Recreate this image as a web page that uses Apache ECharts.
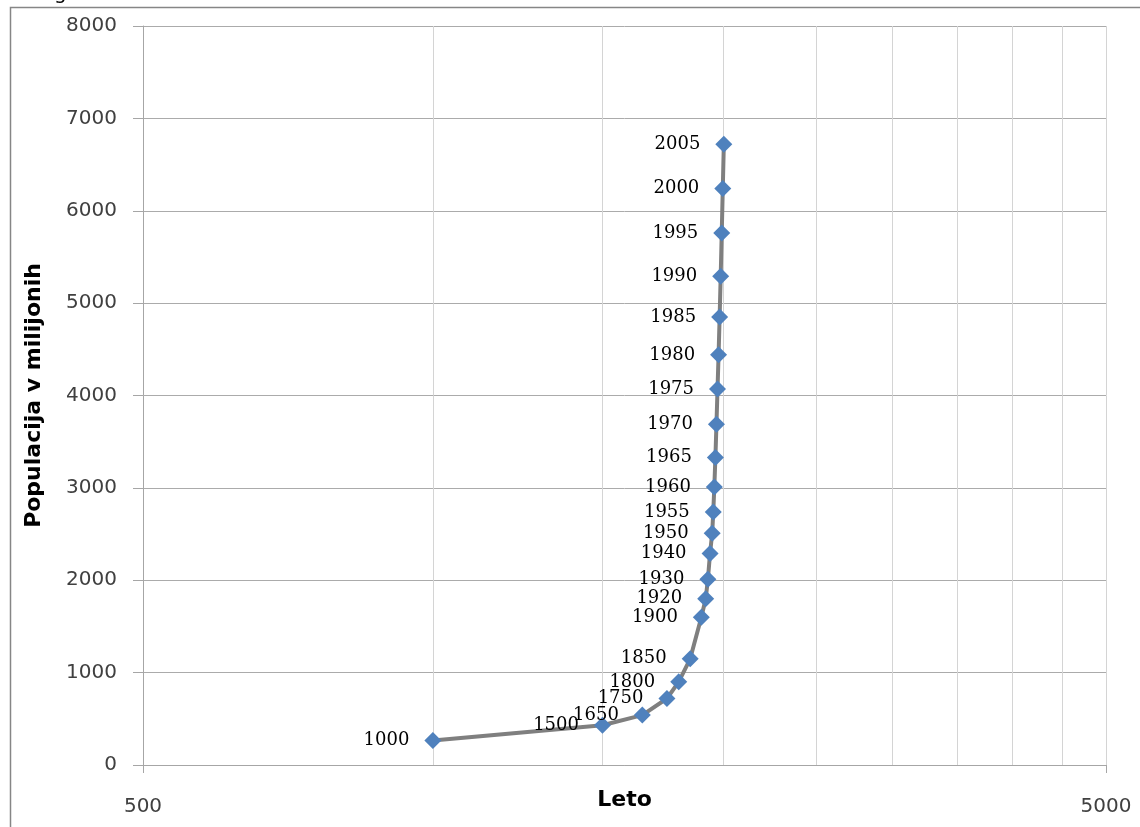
<!DOCTYPE html>
<html>
<head>
<meta charset="utf-8">
<script src="https://cdn.jsdelivr.net/npm/echarts@6/dist/echarts.min.js"></script>
<style>
html,body{margin:0;padding:0;background:#fff;}
#chart{width:1140px;height:827px;}
</style>
</head>
<body>
<div id="chart"></div>
<script>
// Years (x, log scale) and population in millions (y)
var years = [1000, 1500, 1650, 1750, 1800, 1850, 1900, 1920, 1930, 1940, 1950, 1955, 1960, 1965, 1970, 1975, 1980, 1985, 1990, 1995, 2000, 2005];
var population = [265, 430, 540, 720, 900, 1150, 1600, 1800, 2010, 2290, 2510, 2740, 3010, 3330, 3690, 4070, 4440, 4850, 5290, 5760, 6240, 6720];
var xGridValues = [1000, 1500, 2000, 2500, 3000, 3500, 4000, 4500];
var xAxisMin = 500, xAxisMax = 5000;
var yAxisMin = 0, yAxisMax = 8000, yAxisStep = 1000;

var points = years.map(function (y, i) { return [y, population[i]]; });

var chart = echarts.init(document.getElementById('chart'), null, {renderer: 'canvas'});
var option = {
  backgroundColor: '#ffffff',
  animation: false,
  graphic: [
    {type: 'rect', shape: {x: 10.5, y: 7.5, width: 1300, height: 1000}, style: {fill: 'none', stroke: '#868686', lineWidth: 1.5}, silent: true, z: 0},
    {type: 'text', x: 54, y: 4, style: {text: 'g', font: '20px "DejaVu Sans"', fill: '#000', verticalAlign: 'bottom'}, silent: true}
  ],
  grid: {left: 143, right: 34, top: 26, bottom: 62, containLabel: false, outerBoundsMode: 'none'},
  xAxis: {
    type: 'log', logBase: 10, min: xAxisMin, max: xAxisMax, interval: 2,
    name: 'Leto', nameLocation: 'middle', nameGap: 24, nameMoveOverlap: false,
    nameTextStyle: {fontFamily: 'DejaVu Sans', fontWeight: 'bold', fontSize: 22, color: '#000'},
    axisLine: {show: true, lineStyle: {color: '#a6a6a6', width: 1}},
    axisTick: {show: true, inside: false, length: 8, lineStyle: {color: '#a6a6a6'}},
    axisLabel: {margin: 32, fontFamily: 'DejaVu Sans', fontSize: 20, color: '#404040', showMinLabel: true, showMaxLabel: true,
      formatter: function (v) { return String(Math.round(v)); }},
    splitLine: {show: true, lineStyle: {color: '#d4d4d4', width: 1}},
    minorTick: {show: false}
  },
  yAxis: {
    type: 'value', min: yAxisMin, max: yAxisMax, interval: yAxisStep,
    name: 'Populacija v milijonih', nameLocation: 'middle', nameGap: 98, nameMoveOverlap: false,
    nameTextStyle: {fontFamily: 'DejaVu Sans', fontWeight: 'bold', fontSize: 22, color: '#000'},
    axisLine: {show: true, lineStyle: {color: '#a6a6a6', width: 1}},
    axisTick: {show: true, inside: false, length: 10, lineStyle: {color: '#a6a6a6'}},
    axisLabel: {margin: 26, fontFamily: 'DejaVu Sans', fontSize: 20, color: '#404040',
      formatter: function (v) { return String(v); }},
    splitLine: {show: true, lineStyle: {color: '#ababab', width: 1}}
  },
  series: [
    {
      type: 'line', data: [], z: 1, silent: true,
      markLine: {
        silent: true, symbol: ['none', 'none'], z: 1, animation: false,
        label: {show: false},
        lineStyle: {color: '#d4d4d4', type: 'solid', width: 1},
        emphasis: {disabled: true},
        data: xGridValues.map(function (v) { return {xAxis: v}; })
      }
    },
    {
      type: 'line', data: points, z: 3,
      lineStyle: {color: '#7f7f7f', width: 4},
      itemStyle: {color: '#4f81bd'},
      symbol: 'diamond', symbolSize: 17, showAllSymbol: true,
      label: {
        show: true, position: 'left', distance: 15,
        formatter: function (p) { return String(p.value[0]); },
        fontFamily: 'DejaVu Serif', fontSize: 18, color: '#000'
      }
    }
  ]
};
chart.setOption(option);
</script>
</body>
</html>
